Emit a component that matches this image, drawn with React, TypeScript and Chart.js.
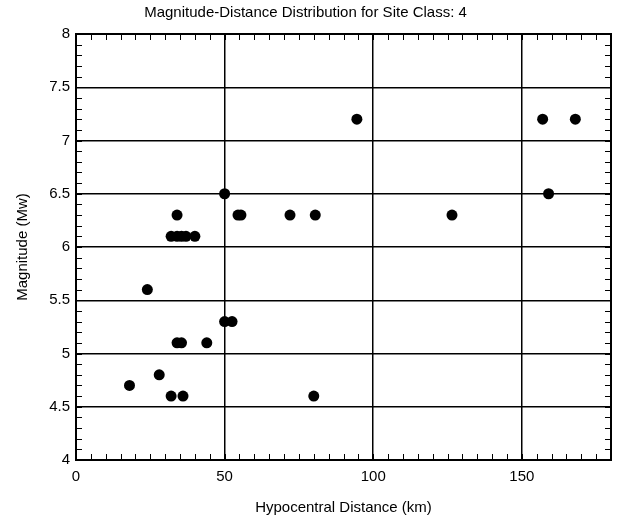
import React, { useEffect, useRef } from "react";
import { Chart, registerables } from "chart.js";

Chart.register(...registerables);

// Hypocentral distance (km) of each record
const distanceKm = [
  18, 24, 28, 32, 36, 34, 35.5, 44, 50, 52.5, 50, 34, 54.5, 55.5,
  32, 34, 35.5, 37, 40, 72, 80.5, 80, 94.5, 126.5, 157, 159, 168,
];
// Moment magnitude (Mw) of each record
const magnitudeMw = [
  4.7, 5.6, 4.8, 4.6, 4.6, 5.1, 5.1, 5.1, 5.3, 5.3, 6.5, 6.3, 6.3, 6.3,
  6.1, 6.1, 6.1, 6.1, 6.1, 6.3, 6.3, 4.6, 7.2, 6.3, 7.2, 6.5, 7.2,
];

const xMajorTicks = [0, 50, 100, 150];
const yMajorTicks = [4, 4.5, 5, 5.5, 6, 6.5, 7, 7.5, 8];
const xMinorStep = 5;
const yMinorStep = 0.1;
const xRange = [0, 180];
const yRange = [4, 8];

const titleText = "Magnitude-Distance Distribution for Site Class: 4";
const xTitle = "Hypocentral Distance (km)";
const yTitle = "Magnitude (Mw)";

const FONT = "'Liberation Sans', Arial, Helvetica, sans-serif";

const framePlugin = {
  id: "frameAndMinorTicks",
  afterDatasetsDraw(chart: any) {
    const { ctx, chartArea, scales } = chart;
    const { left, right, top, bottom } = chartArea;
    const xs = scales.x;
    const ys = scales.y;
    ctx.save();
    ctx.strokeStyle = "#000";
    ctx.lineWidth = 1;
    const tl = 6;
    ctx.beginPath();
    for (let v = xRange[0]; v <= xRange[1] + 1e-9; v += xMinorStep) {
      const p = Math.round(xs.getPixelForValue(v)) + 0.5;
      ctx.moveTo(p, bottom);
      ctx.lineTo(p, bottom - tl);
      ctx.moveTo(p, top);
      ctx.lineTo(p, top + tl);
    }
    for (let i = 0; i <= Math.round((yRange[1] - yRange[0]) / yMinorStep); i++) {
      const v = yRange[0] + i * yMinorStep;
      const p = Math.round(ys.getPixelForValue(v)) + 0.5;
      ctx.moveTo(left, p);
      ctx.lineTo(left + tl, p);
      ctx.moveTo(right, p);
      ctx.lineTo(right - tl, p);
    }
    ctx.stroke();
    ctx.lineWidth = 2;
    ctx.strokeRect(left, top, right - left, bottom - top);
    ctx.restore();
  },
};

export default function App() {
  const ref = useRef<HTMLCanvasElement | null>(null);

  useEffect(() => {
    if (!ref.current) return;
    const points = distanceKm.map((d, i) => ({ x: d, y: magnitudeMw[i] }));
    const chart = new Chart(ref.current, {
      type: "scatter",
      data: {
        datasets: [
          {
            data: points,
            backgroundColor: "#000",
            borderColor: "#000",
            borderWidth: 0,
            pointRadius: 5.5,
            pointHoverRadius: 5.5,
          },
        ],
      },
      options: {
        animation: false,
        responsive: false,
        layout: { padding: { left: 0, right: 6, top: 0, bottom: 0 } },
        plugins: {
          legend: { display: false },
          tooltip: { enabled: false },
          title: {
            display: true,
            text: titleText,
            color: "#000",
            font: { family: FONT, size: 15, weight: "normal" },
            padding: { top: 4, bottom: 12 },
          },
        },
        scales: {
          x: {
            type: "linear",
            min: xRange[0],
            max: xRange[1],
            afterBuildTicks: (scale: any) => {
              scale.ticks = xMajorTicks.map((v) => ({ value: v }));
            },
            afterFit: (scale: any) => {
              scale.height = 67;
            },
            ticks: {
              color: "#000",
              font: { family: FONT, size: 15 },
              padding: 8,
              maxRotation: 0,
              callback: (v: any) => String(v),
            },
            grid: { color: "#000", lineWidth: 1.5, drawTicks: false },
            border: { display: true, color: "#000", width: 2 },
            title: {
              display: true,
              text: xTitle,
              color: "#000",
              font: { family: FONT, size: 15 },
              padding: { top: 0, bottom: 10 },
            },
          },
          y: {
            type: "linear",
            min: yRange[0],
            max: yRange[1],
            afterBuildTicks: (scale: any) => {
              scale.ticks = yMajorTicks.map((v) => ({ value: v }));
            },
            afterFit: (scale: any) => {
              scale.width = 76;
            },
            ticks: {
              color: "#000",
              font: { family: FONT, size: 15 },
              padding: 6,
              callback: (v: any) => String(v),
            },
            grid: { color: "#000", lineWidth: 1.5, drawTicks: false },
            border: { display: true, color: "#000", width: 2 },
            title: {
              display: true,
              text: yTitle,
              color: "#000",
              font: { family: FONT, size: 15 },
              padding: { top: 14, bottom: 0 },
            },
          },
        },
      },
      plugins: [framePlugin],
    });
    return () => chart.destroy();
  }, []);

  return (
    <div style={{ position: "absolute", left: 0, top: 0, width: 617, height: 527, background: "#fff" }}>
      <canvas ref={ref} width={617} height={527} />
    </div>
  );
}
